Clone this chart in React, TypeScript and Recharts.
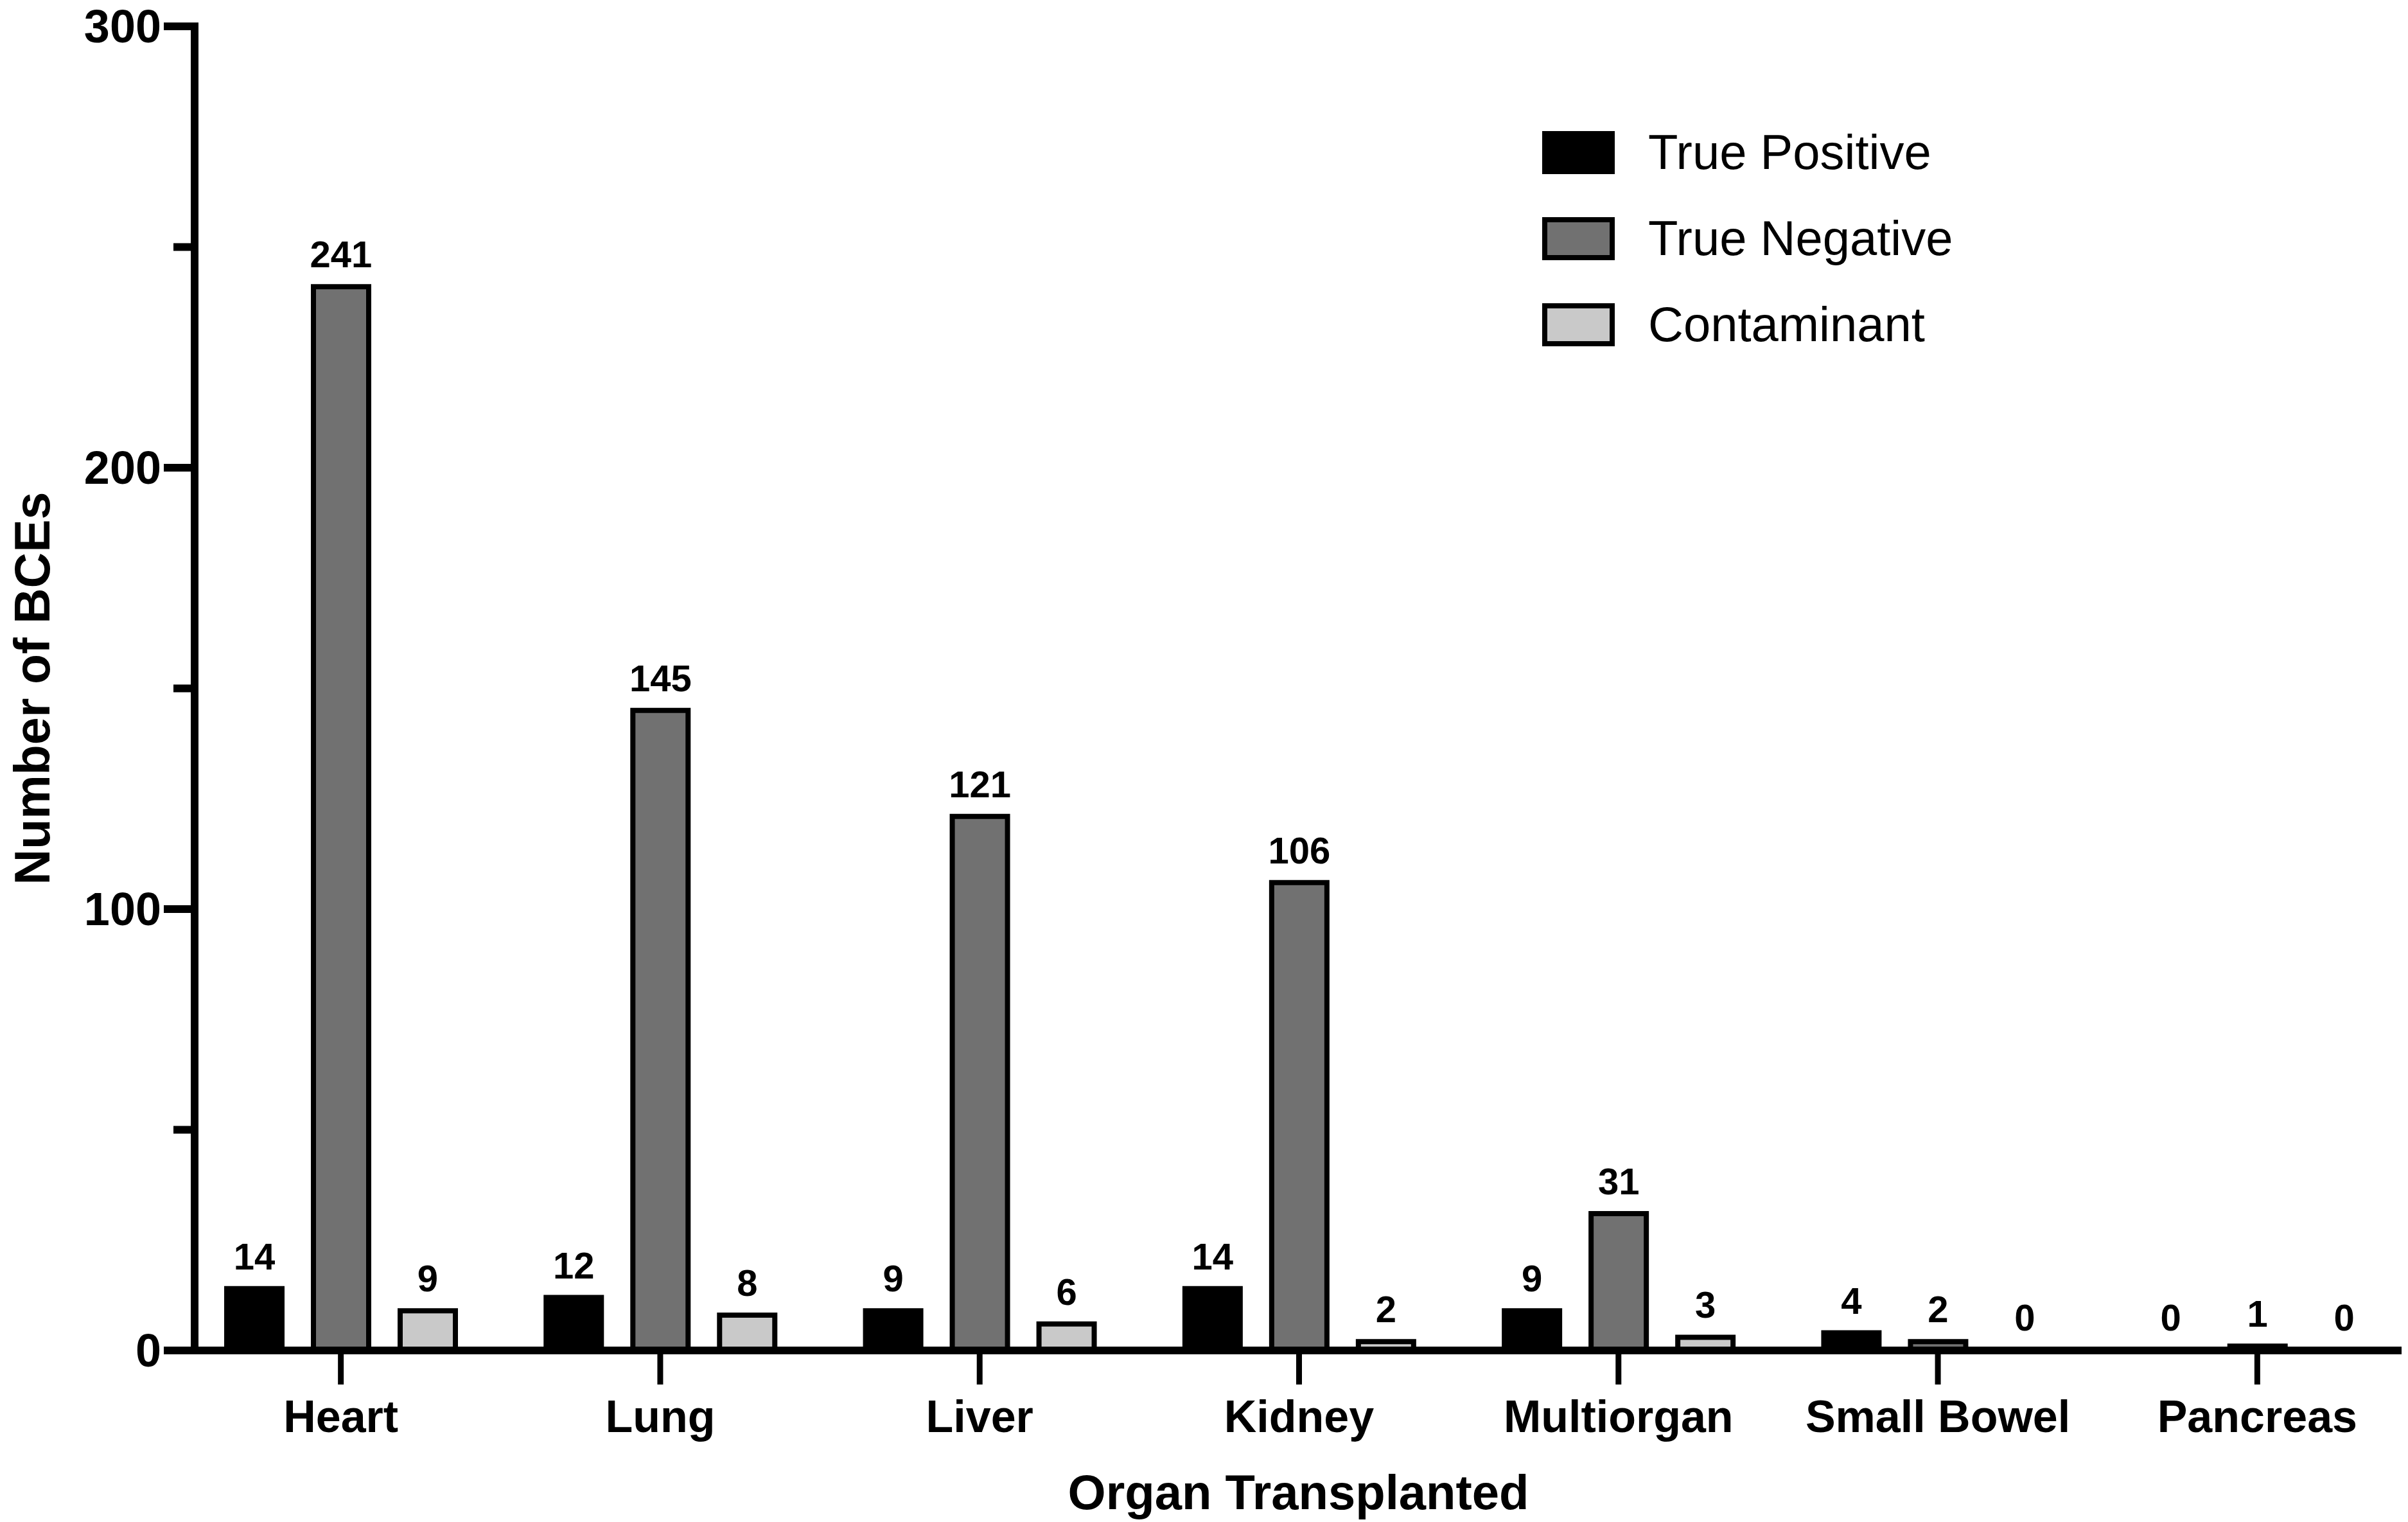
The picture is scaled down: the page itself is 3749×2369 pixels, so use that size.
import React from 'react';
import { BarChart, Bar, XAxis, YAxis, Legend, LabelList } from 'recharts';

const organs = ['Heart', 'Lung', 'Liver', 'Kidney', 'Multiorgan', 'Small Bowel', 'Pancreas'];
const truePositive = [14, 12, 9, 14, 9, 4, 0];
const trueNegative = [241, 145, 121, 106, 31, 2, 1];
const contaminant = [9, 8, 6, 2, 3, 0, 0];
const yTicks = [0, 50, 100, 150, 200, 250, 300];

const FONT = '"Liberation Sans", Arial, Helvetica, sans-serif';

const data = organs.map((organ, i) => ({
  organ,
  tp: truePositive[i],
  tn: trueNegative[i],
  c: contaminant[i],
}));

const SERIES = [
  { key: 'tp', name: 'True Positive', color: '#000000' },
  { key: 'tn', name: 'True Negative', color: '#717171' },
  { key: 'c', name: 'Contaminant', color: '#c9c9c9' },
];

// y axis line sits a bit right of where the x axis starts (Prism style)
const Y_SHIFT = 45;

const YTick = (props: any) => {
  const { x, y, payload } = props;
  const ax = x + Y_SHIFT;
  const major = payload.value % 100 === 0;
  const len = major ? 48 : 33;
  return (
    <g>
      <line x1={ax - len} x2={ax} y1={y} y2={y} stroke="#000" strokeWidth={12} />
      {major && (
        <text
          x={ax - 52}
          y={y}
          textAnchor="end"
          dominantBaseline="central"
          fontFamily={FONT}
          fontWeight={700}
          fontSize={72}
          fill="#000"
        >
          {payload.value}
        </text>
      )}
    </g>
  );
};

const YTitle = (props: any) => {
  const { viewBox } = props;
  const cy = viewBox.y + viewBox.height / 2;
  const bx = 77;
  return (
    <text
      x={bx}
      y={cy}
      transform={`rotate(-90, ${bx}, ${cy})`}
      textAnchor="middle"
      fontFamily={FONT}
      fontWeight={700}
      fontSize={77}
      fill="#000"
    >
      Number of BCEs
    </text>
  );
};

// legend keeps the series order (recharts hands the payload back reversed)
const renderLegend = () => (
  <div style={{ display: 'flex', flexDirection: 'column' }}>
    {SERIES.map((s) => (
      <div key={s.key} style={{ display: 'flex', alignItems: 'center', height: 134 }}>
        <svg width={113} height={67} style={{ display: 'block' }}>
          <rect x={4} y={4} width={105} height={59} fill={s.color} stroke="#000" strokeWidth={8} />
        </svg>
        <span
          style={{
            marginLeft: 52,
            fontFamily: FONT,
            fontSize: 76,
            color: '#000',
            lineHeight: 1,
            whiteSpace: 'nowrap',
          }}
        >
          {s.name}
        </span>
      </div>
    ))}
  </div>
);

export default function App() {
  return (
    <div>
      <style>{'body{margin:0;background:#fff}'}</style>
      <BarChart
        width={3749}
        height={2369}
        data={data}
        margin={{ top: 41, right: 10, bottom: 0, left: 0 }}
        barSize={86}
        barGap={49}
      >
        <XAxis
          dataKey="organ"
          height={267}
          padding={{ left: 24, right: -24 }}
          axisLine={{ stroke: '#000', strokeWidth: 12 }}
          tickLine={{ stroke: '#000', strokeWidth: 9 }}
          tickSize={53}
          tickMargin={24}
          interval={0}
          tick={{ fill: '#000', fontSize: 70, fontWeight: 700, fontFamily: FONT }}
          label={{
            value: 'Organ Transplanted',
            position: 'insideBottom',
            offset: 20,
            dx: 23,
            fill: '#000',
            fontSize: 76,
            fontWeight: 700,
            fontFamily: FONT,
          }}
        />
        <YAxis
          width={258}
          domain={[0, 300]}
          ticks={yTicks}
          interval={0}
          tickSize={0}
          tickMargin={0}
          tickLine={false}
          axisLine={{ stroke: '#000', strokeWidth: 12, strokeLinecap: 'square', transform: `translate(${Y_SHIFT},0)` }}
          tick={<YTick />}
          label={{ content: <YTitle /> }}
        />
        <Legend
          layout="vertical"
          align="center"
          verticalAlign="middle"
          content={renderLegend}
          wrapperStyle={{ left: 2401, top: 170, width: 900, height: 402 }}
        />
        {SERIES.map((s) => (
          <Bar
            key={s.key}
            dataKey={s.key}
            name={s.name}
            fill={s.color}
            stroke="#000"
            strokeWidth={8}
            minPointSize={1}
            isAnimationActive={false}
          >
            <LabelList
              dataKey={s.key}
              position="top"
              offset={30}
              fill="#000"
              fontSize={58}
              fontWeight={700}
              fontFamily={FONT}
            />
          </Bar>
        ))}
      </BarChart>
    </div>
  );
}
